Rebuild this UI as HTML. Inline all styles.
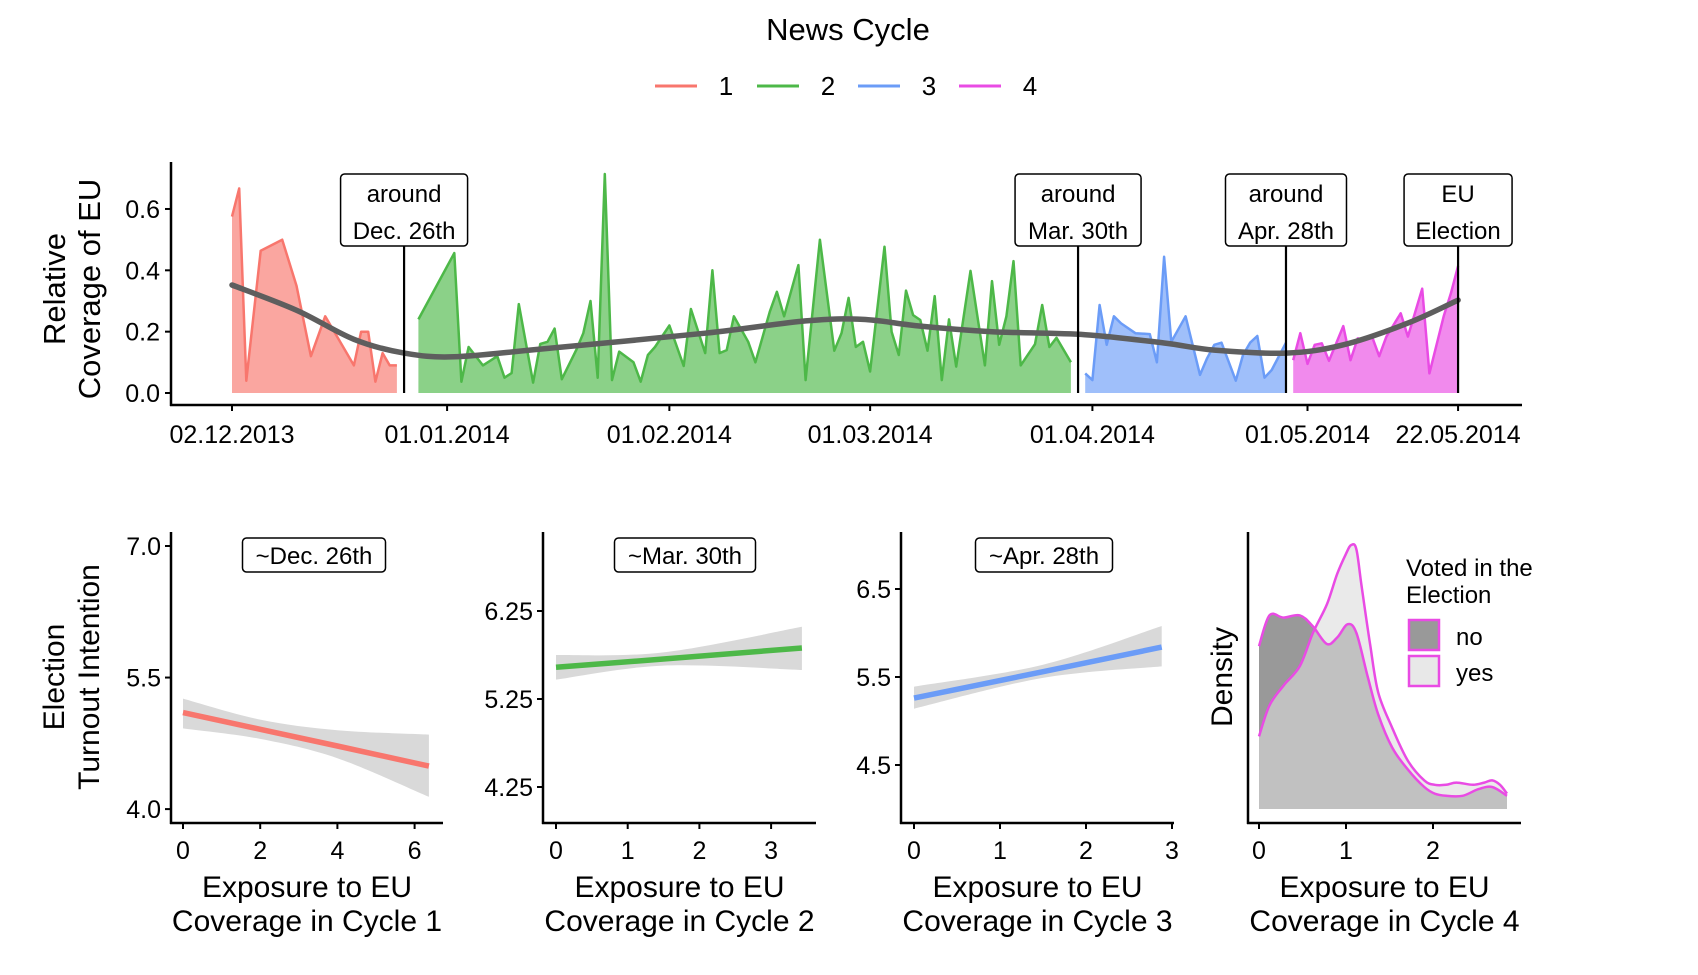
<!DOCTYPE html>
<html><head><meta charset="utf-8"><style>
html,body{margin:0;padding:0;background:#fff;}
svg text{font-family:"Liberation Sans",Arial,sans-serif;fill:#000;}
</style></head><body>
<svg id="chart" xmlns="http://www.w3.org/2000/svg" width="1698" height="970" viewBox="0 0 1698 970">
<rect width="1698" height="970" fill="#fff"/>
<g id="legend">
<text x="848" y="40" font-size="31" text-anchor="middle">News Cycle</text>
</g>
<g id="topPanel"></g>
<g id="bottom"></g>
</svg>
<script>
// ---------- top panel data (day offset from 02.12.2013) ----------
const c1Days = [0,1,2,4,7,9,11,13,15,17,18,19,20,21,22,23];
const c1Vals = [0.575,0.667,0.04,0.464,0.50,0.35,0.12,0.25,0.17,0.09,0.20,0.20,0.037,0.13,0.09,0.09];
const c2Days = [26,31,32,33,35,37,38,39,40,42,43,44,45,46,48,49,50,51,52,53,54,56,57,58,59,61,63,64,66,67,68,69,70,72,73,75,76,77,79,80,82,84,85,86,87,88,89,91,92,93,94,95,96,97,98,99,100,101,103,105,106,107,108,109,110,112,113,114,115,117];
const c2Vals = [0.24,0.456,0.037,0.15,0.09,0.12,0.05,0.065,0.29,0.034,0.16,0.167,0.21,0.045,0.14,0.195,0.30,0.05,0.714,0.042,0.135,0.10,0.037,0.124,0.15,0.22,0.088,0.274,0.13,0.40,0.13,0.14,0.25,0.167,0.10,0.265,0.33,0.25,0.417,0.042,0.50,0.138,0.195,0.31,0.15,0.167,0.07,0.477,0.20,0.124,0.334,0.254,0.238,0.138,0.316,0.042,0.24,0.086,0.398,0.09,0.365,0.157,0.25,0.43,0.09,0.159,0.287,0.15,0.18,0.10];
const c3Days = [119,120,121,122,123,124,126,128,129,130,131,133,135,136,137,138,140,141,142,143,144,145,147];
const c3Vals = [0.064,0.042,0.287,0.157,0.25,0.227,0.195,0.192,0.10,0.444,0.167,0.25,0.059,0.113,0.157,0.164,0.04,0.124,0.164,0.186,0.05,0.075,0.164];
const c4Days = [148,149,150,151,152,153,155,156,157,158,159,160,161,163,164,166,167,169,170,171];
const c4Vals = [0.107,0.195,0.095,0.157,0.162,0.105,0.218,0.107,0.178,0.173,0.184,0.12,0.184,0.26,0.184,0.34,0.064,0.25,0.325,0.414];
const smoothDays = [0,9,17,24,31,43,66,80,88,96,106,119,130,137,147,155,164,171];
const smoothVals = [0.352,0.27,0.175,0.13,0.118,0.143,0.195,0.235,0.24,0.218,0.20,0.19,0.163,0.14,0.13,0.157,0.228,0.303];
const yTicks = [0,0.2,0.4,0.6];
const dateTickDays = [0,30,61,89,120,150,171];
const dateTickLabels = ["02.12.2013","01.01.2014","01.02.2014","01.03.2014","01.04.2014","01.05.2014","22.05.2014"];
const eventDays = [24,118,147,171];
const eventLine1 = ["around","around","around","EU"];
const eventLine2 = ["Dec. 26th","Mar. 30th","Apr. 28th","Election"];
const legendLabels = ["1","2","3","4"];

// ---------- bottom panel data ----------
const p1X = [0,2,4,6.37], p1Fit=[5.10,4.91,4.72,4.49], p1Lo=[4.92,4.80,4.58,4.14], p1Hi=[5.26,5.02,4.90,4.85];
const p2X = [0,1.5,3.43], p2Fit=[5.61,5.705,5.83], p2Lo=[5.47,5.63,5.58], p2Hi=[5.75,5.78,6.07];
const p3X = [0,1.5,2.88], p3Fit=[5.26,5.56,5.84], p3Lo=[5.14,5.49,5.62], p3Hi=[5.39,5.64,6.08];
const p1YTicks=[4.0,5.5,7.0], p1YLabels=["4.0","5.5","7.0"], p1XTicks=[0,2,4,6];
const p2YTicks=[4.25,5.25,6.25], p2YLabels=["4.25","5.25","6.25"], p2XTicks=[0,1,2,3];
const p3YTicks=[4.5,5.5,6.5], p3YLabels=["4.5","5.5","6.5"], p3XTicks=[0,1,2,3];
const p4XTicks=[0,1,2];
const densNoX = [0,0.12,0.28,0.47,0.62,0.78,0.90,1.02,1.12,1.25,1.37,1.53,1.71,1.90,2.02,2.15,2.34,2.52,2.68,2.85];
const densNoY = [0.74,0.88,0.87,0.88,0.83,0.75,0.78,0.84,0.80,0.60,0.43,0.28,0.18,0.10,0.07,0.06,0.06,0.09,0.10,0.06];
const densYesX = [0,0.12,0.28,0.47,0.62,0.78,0.90,1.00,1.06,1.12,1.18,1.28,1.37,1.53,1.71,1.90,2.02,2.15,2.27,2.46,2.59,2.68,2.77,2.85];
const densYesY = [0.33,0.47,0.56,0.65,0.80,0.93,1.07,1.16,1.20,1.18,1.01,0.74,0.53,0.37,0.22,0.13,0.11,0.11,0.12,0.11,0.12,0.13,0.11,0.07];

const NS="http://www.w3.org/2000/svg";
function mk(tag, attrs, parent){const e=document.createElementNS(NS,tag);for(const k in attrs)e.setAttribute(k,attrs[k]);parent.appendChild(e);return e;}
function txt(parent,x,y,s,size,anchor,extra){const t=mk('text',Object.assign({x:x,y:y,'font-size':size,'text-anchor':anchor||'middle'},extra||{}),parent);t.textContent=s;return t;}
function smoothPath(px,py,move){
  let d=(move===false?'L':'M')+px[0].toFixed(1)+','+py[0].toFixed(1);
  for(let i=0;i<px.length-1;i++){
    const x0=px[Math.max(i-1,0)],y0=py[Math.max(i-1,0)],x1=px[i],y1=py[i],x2=px[i+1],y2=py[i+1],x3=px[Math.min(i+2,px.length-1)],y3=py[Math.min(i+2,px.length-1)];
    d+=' C'+(x1+(x2-x0)/6).toFixed(1)+','+(y1+(y2-y0)/6).toFixed(1)+' '+(x2-(x3-x1)/6).toFixed(1)+','+(y2-(y3-y1)/6).toFixed(1)+' '+x2.toFixed(1)+','+y2.toFixed(1);
  }
  return d;
}

const colors=["#F8766D","#4DB848","#6B9CF7","#E94BE4"];

const lg=document.getElementById('legend');
const legLineX=[655,757,858,959];
legendLabels.forEach((l,i)=>{
  const g=mk('g',{},lg);
  
  
  mk('line',{x1:legLineX[i],x2:legLineX[i]+42,y1:86,y2:86,stroke:colors[i],'stroke-width':3},g);
  txt(g,legLineX[i]+71,95,l,26);
});

// ---------- top panel ----------
const topG=document.getElementById('topPanel');


const xDay=d=>232+d*7.17;
const yTop=v=>393-v*306.7;
const cyc=[[c1Days,c1Vals],[c2Days,c2Vals],[c3Days,c3Vals],[c4Days,c4Vals]];
cyc.forEach((c,i)=>{
  const ds=c[0], vs=c[1];
  const pts=ds.map((d,j)=>xDay(d).toFixed(1)+','+yTop(vs[j]).toFixed(1));
  const area=mk('polygon',{points:xDay(ds[0]).toFixed(1)+','+yTop(0)+' '+pts.join(' ')+' '+xDay(ds[ds.length-1]).toFixed(1)+','+yTop(0),fill:colors[i],'fill-opacity':0.65,stroke:'none'},topG);
  
  
  const ln=mk('polyline',{points:pts.join(' '),fill:'none',stroke:colors[i],'stroke-width':2.5,'stroke-linejoin':'round'},topG);
  
  
});
const sm=mk('path',{d:smoothPath(smoothDays.map(xDay),smoothVals.map(yTop)),fill:'none',stroke:'#5e5e5e','stroke-width':5.5,'stroke-linecap':'round'},topG);


const boxW=[127,126,121,108];
eventDays.forEach((d,i)=>{
  const x=xDay(d);
  const g=mk('g',{},topG);
  
  
  mk('line',{x1:x,x2:x,y1:246,y2:yTop(0),stroke:'#000','stroke-width':2.2},g);
  mk('rect',{x:x-boxW[i]/2,y:174,width:boxW[i],height:72,rx:4,fill:'#fff',stroke:'#000','stroke-width':1.5},g);
  txt(g,x,202,eventLine1[i],24);
  txt(g,x,239,eventLine2[i],24);
});
const tya=mk('line',{x1:171,x2:171,y1:162,y2:406,stroke:'#000','stroke-width':2.5},topG);


const txa=mk('line',{x1:170,x2:1522,y1:405,y2:405,stroke:'#000','stroke-width':2.5},topG);


yTicks.forEach(v=>{
  const y=yTop(v);
  mk('line',{x1:165,x2:171,y1:y,y2:y,stroke:'#000','stroke-width':2},topG);
  const t=txt(topG,160,y+9,v.toFixed(1),25,'end');
  
  
});
dateTickDays.forEach((d,i)=>{
  const x=xDay(d);
  mk('line',{x1:x,x2:x,y1:405,y2:411,stroke:'#000','stroke-width':2},topG);
  const t=txt(topG,x,443,dateTickLabels[i],25);
  
  
});
const yt=mk('text',{transform:'translate(65,289) rotate(-90)','font-size':31,'text-anchor':'middle'},topG);


yt.textContent='Relative';
const yt2=mk('text',{transform:'translate(100,289) rotate(-90)','font-size':31,'text-anchor':'middle'},topG);


yt2.textContent='Coverage of EU';

// ---------- bottom panels ----------
const bot=document.getElementById('bottom');
function panel(o){
  const g=mk('g',{},bot);
  
  
  const xs=v=>o.x0+v*o.xu, ys=v=>o.yRef+(o.vRef-v)*o.yu;
  if(o.fit){
    const ux=o.X.map(xs), uy=o.hi.map(ys);
    const lx=o.X.map(xs).reverse(), ly=o.lo.map(ys).reverse();
    const band=mk('path',{d:smoothPath(ux,uy)+' '+smoothPath(lx,ly,false)+' Z',fill:'#d9d9d9'},g);
    
    
    const fl=mk('polyline',{points:o.X.map((x,i)=>xs(x).toFixed(1)+','+ys(o.fit[i]).toFixed(1)).join(' '),fill:'none',stroke:o.color,'stroke-width':5.5},g);
    
    
  }
  if(o.dens){
    const base=809, du=220;
    const dx=v=>1259+v*87;
    const mkArea=(X,Y,fill,op,nm)=>{
      const px=X.map(dx), py=Y.map(v=>base-v*du);
      const curve=smoothPath(px,py);
      const a=mk('path',{d:'M'+px[0]+','+base+' '+curve.replace(/^M/,'L')+' L'+px[px.length-1]+','+base+' Z',fill:fill,'fill-opacity':op},g);
      
      
      return curve;
    };
    const cn=mkArea(densNoX,densNoY,'#999999',1,'no');
    const cy=mkArea(densYesX,densYesY,'#dcdcdc',0.6,'yes');
    const l1=mk('path',{d:cn,fill:'none',stroke:'#E94BE4','stroke-width':2.5},g);
    
    
    const l2=mk('path',{d:cy,fill:'none',stroke:'#E94BE4','stroke-width':2.5},g);
    
    
  }
  mk('line',{x1:o.ax,x2:o.ax,y1:532,y2:824,stroke:'#000','stroke-width':2.5},g);
  mk('line',{x1:o.ax-1,x2:o.axEnd,y1:823,y2:823,stroke:'#000','stroke-width':2.5},g);
  (o.yt||[]).forEach((v,i)=>{
    const y=ys(v);
    mk('line',{x1:o.ax-6,x2:o.ax,y1:y,y2:y,stroke:'#000','stroke-width':2},g);
    const t=txt(g,o.ax-10,y+9,o.yl[i],25,'end');
    
    
  });
  const xsx=o.dens?(v=>1259+v*87):xs;
  o.xt.forEach(v=>{
    const x=xsx(v);
    mk('line',{x1:x,x2:x,y1:823,y2:829,stroke:'#000','stroke-width':2},g);
    const t=txt(g,x,859,String(v),25);
    
    
  });
  const cx=(o.ax+o.axEnd)/2;
  const t1=txt(g,cx,897,'Exposure to EU',30);
  
  
  const t2=txt(g,cx,931,'Coverage in Cycle '+o.n,30);
  
  
  if(o.label){
    const lb=mk('g',{},g);
    
    
    mk('rect',{x:o.lx-o.lw/2,y:538,width:o.lw,height:34,rx:4,fill:'#fff',stroke:'#000','stroke-width':1.5},lb);
    txt(lb,o.lx,564,o.label,24);
  }
}
panel({name:'cycle-1-panel',n:1,x0:183,xu:38.6,yRef:546,vRef:7,yu:87.7,X:p1X,fit:p1Fit,lo:p1Lo,hi:p1Hi,color:'#F8766D',ax:171,axEnd:443,yt:p1YTicks,yl:p1YLabels,xt:p1XTicks,label:'~Dec. 26th',lx:314,lw:143});
panel({name:'cycle-2-panel',n:2,x0:556,xu:71.7,yRef:611,vRef:6.25,yu:88,X:p2X,fit:p2Fit,lo:p2Lo,hi:p2Hi,color:'#4DB848',ax:543,axEnd:816,yt:p2YTicks,yl:p2YLabels,xt:p2XTicks,label:'~Mar. 30th',lx:685,lw:141});
panel({name:'cycle-3-panel',n:3,x0:914,xu:86,yRef:589,vRef:6.5,yu:88,X:p3X,fit:p3Fit,lo:p3Lo,hi:p3Hi,color:'#6B9CF7',ax:901,axEnd:1174,yt:p3YTicks,yl:p3YLabels,xt:p3XTicks,label:'~Apr. 28th',lx:1044,lw:137});
panel({name:'cycle-4-density-panel',n:4,dens:true,ax:1248,axEnd:1521,xt:p4XTicks});

const e1=mk('text',{transform:'translate(64,677) rotate(-90)','font-size':30,'text-anchor':'middle'},bot);


e1.textContent='Election';
const e2=mk('text',{transform:'translate(99,677) rotate(-90)','font-size':30,'text-anchor':'middle'},bot);


e2.textContent='Turnout Intention';
const dn=mk('text',{transform:'translate(1232,677) rotate(-90)','font-size':30,'text-anchor':'middle'},bot);


dn.textContent='Density';

const dl=mk('g',{},bot);


txt(dl,1406,576,'Voted in the',24,'start');
txt(dl,1406,603,'Election',24,'start');
const k1=mk('rect',{x:1409,y:620,width:30,height:30,fill:'#999999',stroke:'#E94BE4','stroke-width':2.5},dl);


const k2=mk('rect',{x:1409,y:656,width:30,height:30,fill:'#e8e8e8',stroke:'#E94BE4','stroke-width':2.5},dl);


txt(dl,1456,645,'no',24,'start');
txt(dl,1456,681,'yes',24,'start');
</script>
</body></html>
